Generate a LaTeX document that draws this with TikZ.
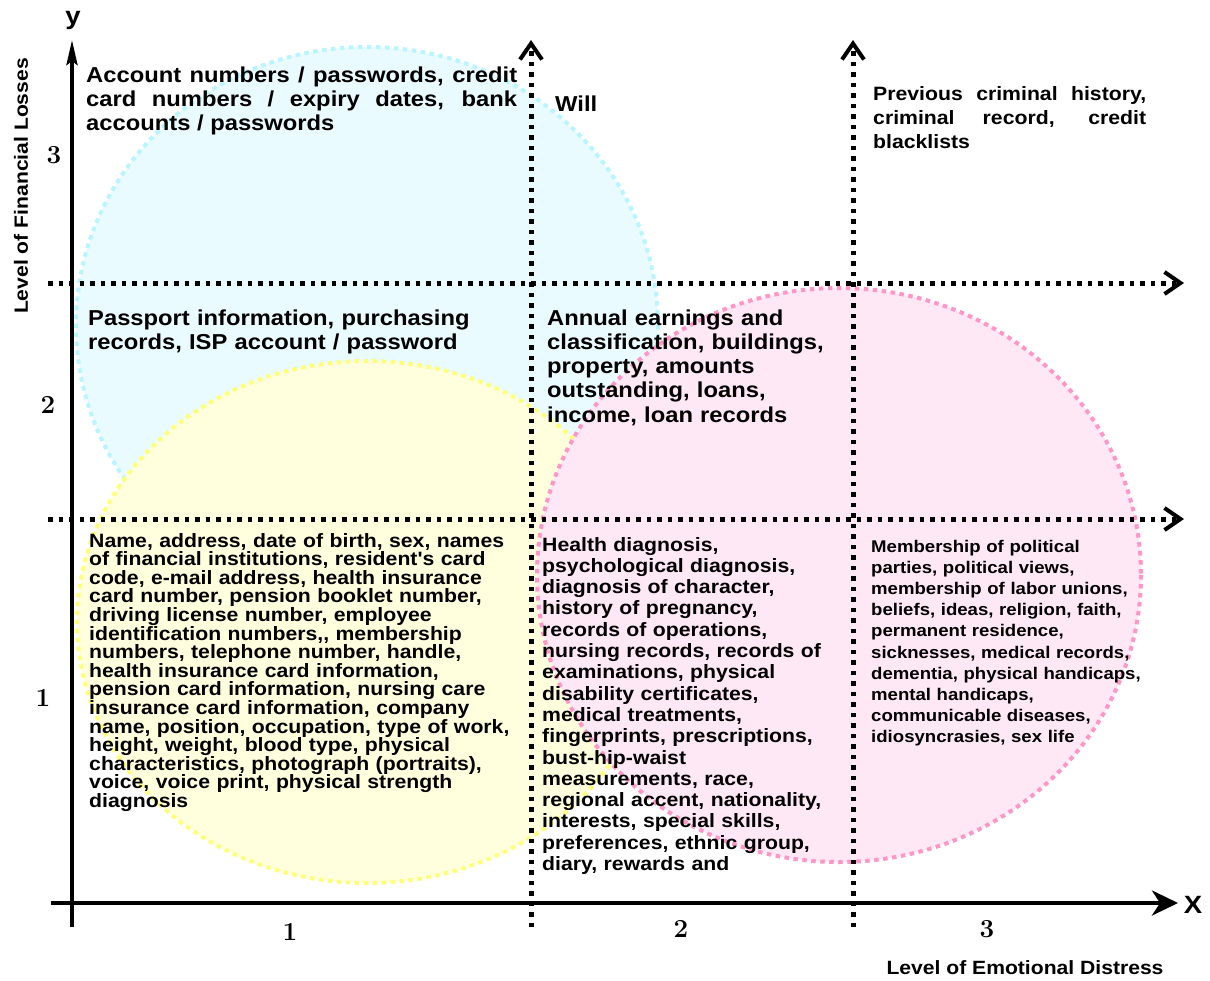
\documentclass[tikz,border=0pt]{standalone}
\usepackage{fontspec}
\usetikzlibrary{arrows.meta}
\newfontfamily\chartsf[FakeStretch=1.1]{Liberation Sans}
\definecolor{zoneCyanFill}{RGB}{234,251,255}
\definecolor{zoneCyanEdge}{RGB}{185,245,255}
\definecolor{zoneYellowFill}{RGB}{255,255,222}
\definecolor{zoneYellowEdge}{RGB}{255,255,120}
\definecolor{zonePinkFill}{RGB}{255,232,245}
\definecolor{zonePinkEdge}{RGB}{255,150,200}
\begin{document}
\begin{tikzpicture}[x=1pt, y=-1pt]
% Privacy map: financial losses against emotional distress
\providecommand{\mapAxisWidth}{4pt}
\providecommand{\mapDotWidth}{5pt}
\providecommand{\mapZoneWidth}{4pt}
\tikzset{
  axisline/.style={line width=\mapAxisWidth},
  quadline/.style={line width=\mapDotWidth, dash pattern=on 4.5pt off 6pt,
    -{Straight Barb[length=16pt,width=22pt,line width=4pt]}},
  zone/.style 2 args={fill=#1, draw=#2, line width=\mapZoneWidth,
    dash pattern=on 4.5pt off 4.5pt},
  infotext/.style={anchor=base west, inner sep=0pt, align=left},
  bigtext/.style={infotext, font=\chartsf\bfseries\fontsize{21.6}{24.3}\selectfont},
  midtext/.style={infotext, font=\chartsf\bfseries\fontsize{19.3}{#1}\selectfont},
  smalltext/.style={infotext, font=\chartsf\bfseries\fontsize{16.9}{21.2}\selectfont},
  ticklabel/.style={inner sep=0pt, font=\bfseries\fontsize{26}{28}\selectfont},
  axistitle/.style={inner sep=0pt, font=\chartsf\bfseries\fontsize{19.2}{21}\selectfont},
  axisname/.style={inner sep=0pt, font=\chartsf\bfseries\fontsize{25}{27}\selectfont}
}
% Background
\path[use as bounding box, fill=white] (0,0) rectangle (1210,980);
% Zones, back to front
\path[zone={zoneCyanFill}{zoneCyanEdge}] (367,325) ellipse [x radius=291, y radius=278];
\path[zone={zoneYellowFill}{zoneYellowEdge}] (367,622) ellipse [x radius=290, y radius=261];
\path[zone={zonePinkFill}{zonePinkEdge}] (839,575) ellipse [x radius=302, y radius=287];
% Quadrant lines
\coordinate (lowleft) at (48,519);
\coordinate (lowright) at (1184,519);
\coordinate (highleft) at (48,283);
\coordinate (highright) at (1184,283);
\coordinate (midbottom) at (531,927);
\coordinate (midtop) at (531,40);
\coordinate (farbottom) at (853,927);
\coordinate (fartop) at (853,40);
\draw[quadline] (lowleft) -- (lowright);
\draw[quadline] (highleft) -- (highright);
\draw[quadline] (midbottom) -- (midtop);
\draw[quadline] (farbottom) -- (fartop);
% Axes
\coordinate (xstart) at (51,903);
\coordinate (xend) at (1178,903);
\coordinate (ystart) at (72,927);
\coordinate (yend) at (72,40);
\draw[axisline, -{Stealth[length=26pt,width=25pt,inset=8pt]}] (xstart) -- (xend);
\draw[axisline, -{Stealth[length=25pt,width=11pt,inset=4pt]}] (ystart) -- (yend);
\node[axisname] (yname) at (73,20) {y};
\node[axisname] (xname) at (1193,905) {X};
\node[axistitle, rotate=90] (ytitle) at (21,186) {Level of Financial Losses};
\node[axistitle] (xtitle) at (1025,968) {Level of Emotional Distress};
% Tick labels
\node[ticklabel] (ythree) at (54,155) {3};
\node[ticklabel] (ytwo) at (48,405) {2};
\node[ticklabel] (yone) at (43,698) {1};
\node[ticklabel] (xone) at (290,932) {1};
\node[ticklabel] (xtwo) at (681,929) {2};
\node[ticklabel] (xthree) at (987,929) {3};
% Top row
\node[bigtext, text width=431pt, align=justify] (accounts) at (86,82)
  {Account numbers / passwords, credit\linebreak
   card numbers / expiry dates, bank\linebreak
   accounts / passwords};
\node[bigtext] (will) at (555,111) {Will};
\node[midtext=24, text width=273pt, align=justify] (criminal) at (873,100)
  {Previous criminal history,\linebreak
   criminal record, credit\linebreak
   blacklists};
% Middle row
\node[bigtext, text width=420pt] (passport) at (88,325)
  {Passport information, purchasing\\
   records, ISP account / password};
\node[bigtext, text width=300pt] (earnings) at (547,325)
  {Annual earnings and\\
   classification, buildings,\\
   property, amounts\\
   outstanding, loans,\\
   income, loan records};
% Bottom row
\node[midtext=18.6, text width=440pt] (identity) at (89,547)
  {Name, address, date of birth, sex, names\\
   of financial institutions, resident's card\\
   code, e-mail address, health insurance\\
   card number, pension booklet number,\\
   driving license number, employee\\
   identification numbers,, membership\\
   numbers, telephone number, handle,\\
   health insurance card information,\\
   pension card information, nursing care\\
   insurance card information, company\\
   name, position, occupation, type of work,\\
   height, weight, blood type, physical\\
   characteristics, photograph (portraits),\\
   voice, voice print, physical strength\\
   diagnosis};
\node[midtext=21.3, text width=300pt] (health) at (542,551)
  {Health diagnosis,\\
   psychological diagnosis,\\
   diagnosis of character,\\
   history of pregnancy,\\
   records of operations,\\
   nursing records, records of\\
   examinations, physical\\
   disability certificates,\\
   medical treatments,\\
   fingerprints, prescriptions,\\
   bust-hip-waist\\
   measurements, race,\\
   regional accent, nationality,\\
   interests, special skills,\\
   preferences, ethnic group,\\
   diary, rewards and};
\node[smalltext, text width=290pt] (beliefs) at (871,552)
  {Membership of political\\
   parties, political views,\\
   membership of labor unions,\\
   beliefs, ideas, religion, faith,\\
   permanent residence,\\
   sicknesses, medical records,\\
   dementia, physical handicaps,\\
   mental handicaps,\\
   communicable diseases,\\
   idiosyncrasies, sex life};
\end{tikzpicture}
\end{document}
